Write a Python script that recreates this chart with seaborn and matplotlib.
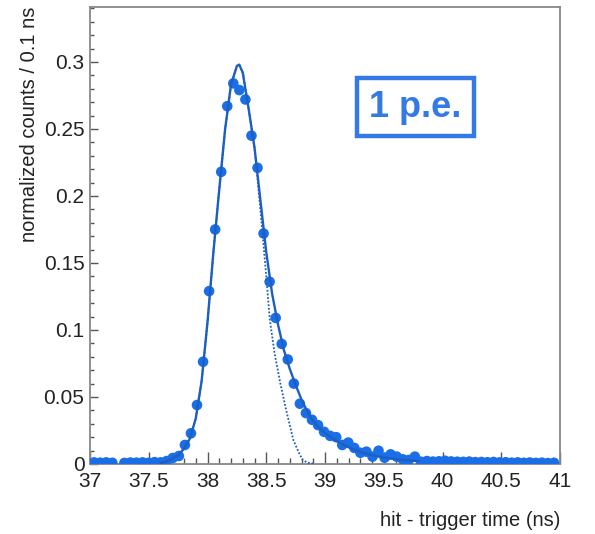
import numpy as np
import matplotlib
matplotlib.use("Agg")
import matplotlib.pyplot as plt
import matplotlib.ticker as mticker
from matplotlib.patches import Rectangle
import seaborn as sns

# histogram: first bin centre, bin width (ns), counts per bin (nan = empty bin)
t_first = 37.035
bin_w = 0.0515
counts = [0.0012, 0.0010, 0.0012, 0.0009, np.nan, 0.0008, 0.0011, 0.0010,
          0.0012, 0.0009, 0.0014, 0.0012, 0.0022, 0.0045, 0.0060, 0.0142,
          0.0229, 0.0440, 0.0763, 0.129, 0.175, 0.218, 0.267, 0.284,
          0.279, 0.272, 0.245, 0.221, 0.172, 0.136, 0.109, 0.0896,
          0.078, 0.060, 0.045, 0.038, 0.033, 0.029, 0.024, 0.021,
          0.020, 0.0142, 0.016, 0.012, 0.0084, 0.0092, 0.0055, 0.0099,
          0.0047, 0.0072, 0.0055, 0.0035, 0.0030, 0.0055, 0.0017, 0.0022,
          0.0018, 0.0020, 0.0024, 0.0019, 0.0017, 0.0016, 0.0018, 0.0014,
          0.0015, 0.0013, 0.0015, 0.0012, 0.0013, 0.0010, 0.0012, 0.0009,
          0.0011, 0.0008, 0.0010, 0.0007, 0.0009]
t_bins = t_first + bin_w * np.arange(len(counts))

# full fit (solid)
fit_t = [37.60, 37.65, 37.70, 37.75, 37.80, 37.85, 37.90, 37.95, 38.00, 38.05,
         38.10, 38.15, 38.20, 38.25, 38.27, 38.30, 38.35, 38.40, 38.45, 38.50,
         38.55, 38.60, 38.65, 38.70, 38.75, 38.80, 38.85, 38.90, 38.95, 39.00,
         39.10, 39.20, 39.30, 39.40, 39.50, 39.60, 39.70, 39.80]
fit_y = [0.0008, 0.0018, 0.0040, 0.0065, 0.0115, 0.019, 0.034, 0.062, 0.106, 0.158,
         0.205, 0.250, 0.283, 0.297, 0.298, 0.292, 0.265, 0.236, 0.197, 0.158,
         0.127, 0.104, 0.085, 0.071, 0.059, 0.048, 0.039, 0.032, 0.027, 0.023,
         0.017, 0.0125, 0.009, 0.0065, 0.0048, 0.0036, 0.0028, 0.0022]

# gaussian component (dotted)
gaus_t = [37.60, 37.65, 37.70, 37.75, 37.80, 37.85, 37.90, 37.95, 38.00, 38.05,
          38.10, 38.15, 38.20, 38.25, 38.27, 38.30, 38.35, 38.40, 38.45, 38.50,
          38.53, 38.57, 38.62, 38.67, 38.73, 38.78, 38.81, 38.85, 38.90]
gaus_y = [0.0008, 0.0018, 0.0040, 0.0065, 0.0115, 0.019, 0.034, 0.062, 0.106, 0.158,
          0.205, 0.250, 0.283, 0.297, 0.298, 0.292, 0.265, 0.236, 0.19, 0.14,
          0.108, 0.083, 0.060, 0.040, 0.018, 0.008, 0.003, 0.001, 0.0003]

data_col = "#1a6ee8"
fit_col = "#1d5fc0"
box_col = "#3579e6"

sns.set_style("ticks")
plt.rcParams["font.family"] = ["Liberation Sans", "DejaVu Sans"]

fig = plt.figure(figsize=(5.95, 5.34), dpi=100)
ax = fig.add_axes([0.1513, 0.1311, 0.7899, 0.8558])

ax.errorbar(t_bins, counts, xerr=bin_w / 2, fmt="none", ecolor=data_col, lw=2)
sns.scatterplot(x=t_bins, y=counts, ax=ax, color=data_col, s=58,
                edgecolor="none", zorder=3)
sns.lineplot(x=gaus_t, y=gaus_y, ax=ax, color=fit_col, lw=1.3,
             linestyle=(0, (1, 1)), sort=False, errorbar=None, zorder=4)
sns.lineplot(x=fit_t, y=fit_y, ax=ax, color=fit_col, lw=1.7,
             sort=False, errorbar=None, zorder=5)

ax.set_xlim(37, 41)
ax.set_ylim(0, 0.341)
ax.xaxis.set_major_locator(mticker.MultipleLocator(0.5))
ax.xaxis.set_minor_locator(mticker.MultipleLocator(0.1))
ax.yaxis.set_major_locator(mticker.MultipleLocator(0.05))
ax.yaxis.set_minor_locator(mticker.MultipleLocator(0.01))
fmt = mticker.FuncFormatter(lambda v, p: "%g" % round(v, 3))
ax.xaxis.set_major_formatter(fmt)
ax.yaxis.set_major_formatter(fmt)

ax.tick_params(axis="both", which="both", direction="in", colors="#555555",
               labelcolor="#222222", top=False, right=False)
ax.tick_params(axis="x", which="major", length=8.5, width=1, labelsize=15, pad=6)
ax.tick_params(axis="x", which="minor", length=4.3, width=1)
ax.tick_params(axis="y", which="major", length=6, width=1, labelsize=15, pad=4)
ax.tick_params(axis="y", which="minor", length=3, width=1)

for sp in ax.spines.values():
    sp.set_color("#888888")
    sp.set_linewidth(1.3)

ax.set_xlabel("hit - trigger time (ns)", fontsize=14.5, loc="right",
              labelpad=14, color="#222222")
ax.set_ylabel("normalized counts / 0.1 ns", fontsize=14.5, loc="top",
              labelpad=3, color="#222222")

ax.add_patch(Rectangle((0.568, 0.7177), 0.249, 0.127, transform=ax.transAxes,
                       fill=False, edgecolor=box_col, lw=3.2, zorder=6))
ax.text(0.6926, 0.781, "1 p.e.", transform=ax.transAxes, ha="center",
        va="center", fontsize=26, fontweight="bold", color=box_col, zorder=7)

fig.savefig("out.png", dpi=100)
